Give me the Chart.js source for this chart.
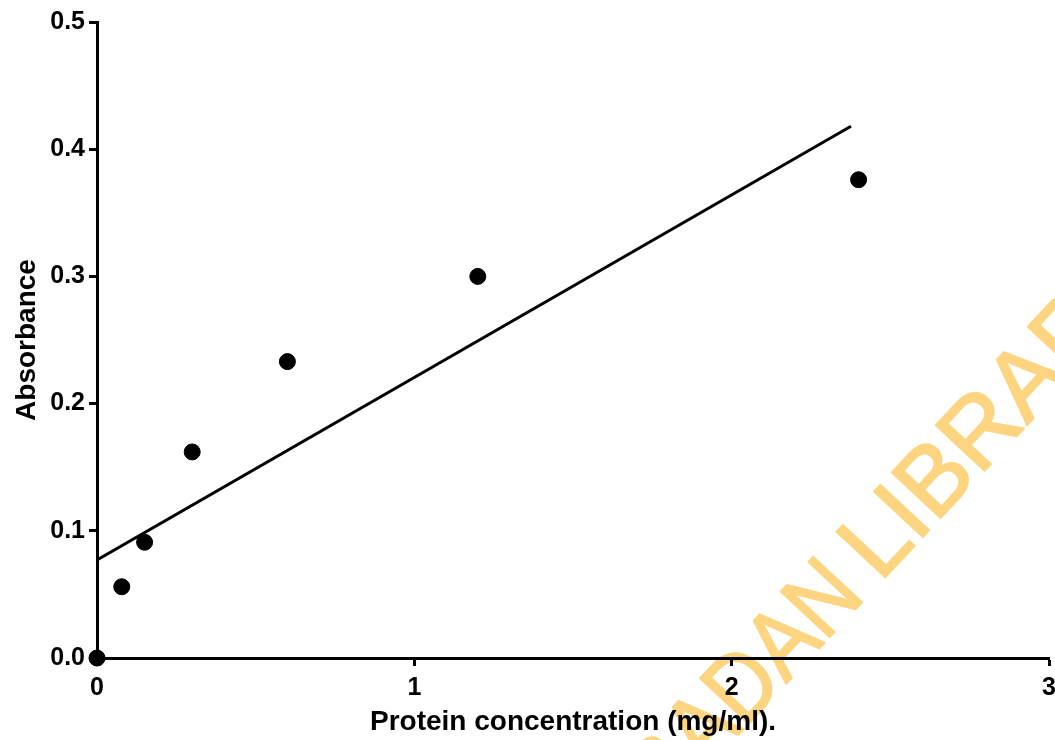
<!DOCTYPE html>
<html>
<head>
<meta charset="utf-8">
<script src="https://cdn.jsdelivr.net/npm/chart.js@4/dist/chart.umd.min.js"></script>
<style>
  html, body { margin: 0; padding: 0; background: #fff; overflow: hidden; }
  #wrap { width: 1065px; height: 740px; }
</style>
</head>
<body>
<div id="wrap"><canvas id="curve"></canvas></div>
<script>
// Standard curve readings
const concentration = [0, 0.078, 0.15, 0.3, 0.6, 1.2, 2.4];
const absorbance = [0, 0.056, 0.091, 0.162, 0.233, 0.300, 0.376];

// Fitted line end points
const fitX = [0, 2.376];
const fitY = [0.077, 0.418];

const xTicks = [0, 1, 2, 3];
const yTicks = [0, 0.1, 0.2, 0.3, 0.4, 0.5];

const FONT = "'Liberation Sans', Arial, sans-serif";

// Library stamp behind the plot
const watermark = {
  id: 'watermark',
  beforeDraw(chart) {
    const ctx = chart.ctx;
    ctx.save();
    ctx.font = '97px ' + FONT;
    ctx.translate(880, 583);
    ctx.rotate(-47 * Math.PI / 180);
    ctx.fillStyle = '#FDD581';
    ctx.strokeStyle = '#FDD581';
    ctx.lineWidth = 2;
    ctx.lineJoin = 'round';
    ctx.textBaseline = 'alphabetic';
    // second word starts at the anchor
    ctx.fillText('LIBRARY', 0, 0);
    ctx.strokeText('LIBRARY', 0, 0);
    // first words, a little tighter
    ctx.scale(0.88, 1);
    ctx.textAlign = 'right';
    ctx.fillText('UNIVERSITY OF IBADAN', -22, 0);
    ctx.strokeText('UNIVERSITY OF IBADAN', -22, 0);
    ctx.restore();
  }
};

const axisStyle = {
  border: { display: true, color: '#000', width: 3 },
  grid: { drawOnChartArea: false, drawTicks: true, tickLength: 8, tickWidth: 3, color: '#000' }
};

new Chart(document.getElementById('curve'), {
  type: 'scatter',
  data: {
    datasets: [
      {
        label: 'Readings',
        data: concentration.map((c, i) => ({ x: c, y: absorbance[i] })),
        backgroundColor: '#000',
        borderColor: '#000',
        pointRadius: 8,
        pointHoverRadius: 8,
        clip: false
      },
      {
        label: 'Fit',
        type: 'line',
        data: fitX.map((c, i) => ({ x: c, y: fitY[i] })),
        borderColor: '#000',
        borderWidth: 3,
        pointRadius: 0,
        fill: false
      }
    ]
  },
  plugins: [watermark],
  options: {
    responsive: true,
    maintainAspectRatio: false,
    animation: false,
    layout: { padding: { top: 22, right: 16, left: 0, bottom: 0 } },
    plugins: {
      legend: { display: false },
      tooltip: { enabled: false }
    },
    scales: {
      x: {
        type: 'linear',
        min: 0,
        max: 3,
        afterBuildTicks: s => { s.ticks = xTicks.map(v => ({ value: v })); },
        afterFit: s => { s.height = 82; },
        ...axisStyle,
        ticks: {
          color: '#000',
          padding: 7,
          font: { family: FONT, size: 25, weight: 'bold' },
          callback: v => String(v)
        },
        title: {
          display: true,
          text: 'Protein concentration (mg/ml).',
          color: '#000',
          padding: { top: 2, bottom: 1 },
          font: { family: FONT, size: 28, weight: 'bold' }
        }
      },
      y: {
        type: 'linear',
        min: 0,
        max: 0.5,
        afterBuildTicks: s => { s.ticks = yTicks.map(v => ({ value: v })); },
        afterFit: s => { s.width = 97; },
        ...axisStyle,
        ticks: {
          color: '#000',
          padding: 4,
          font: { family: FONT, size: 25, weight: 'bold' },
          callback: v => v.toFixed(1)
        },
        title: {
          display: true,
          text: 'Absorbance',
          color: '#000',
          padding: { top: 10, bottom: 0 },
          font: { family: FONT, size: 28, weight: 'bold' }
        }
      }
    }
  }
});
</script>
</body>
</html>
